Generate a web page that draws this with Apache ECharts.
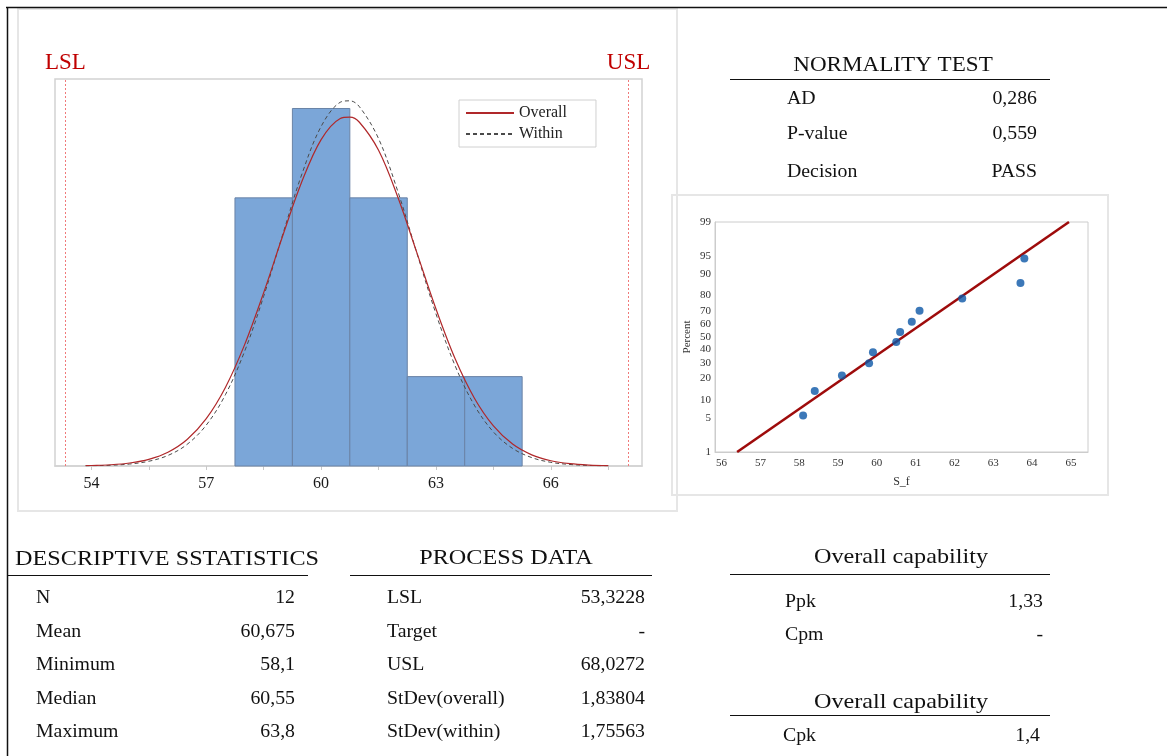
<!DOCTYPE html>
<html><head><meta charset="utf-8">
<script src="https://cdn.jsdelivr.net/npm/echarts@6/dist/echarts.min.js"></script>
<style>html,body{margin:0;padding:0;background:#fff}#c{width:1167px;height:756px}</style>
</head><body><div id="c"></div>
<script>
// ---------- data ----------
const binEdges = [57.75, 59.25, 60.75, 62.25, 63.75, 65.25];
const binCounts = [3, 4, 3, 1, 1];
const curveX = [53.85, 54, 54.5, 55, 55.5, 56, 56.5, 57, 57.5, 58, 58.5, 59, 59.5, 60, 60.5, 60.75, 61, 61.5, 62, 62.5, 63, 63.5, 64, 64.5, 65, 65.5, 66, 66.5, 67, 67.5];
const overallY = [0.004, 0.0054, 0.0138, 0.0333, 0.0743, 0.1538, 0.2962, 0.5294, 0.8788, 1.355, 1.940, 2.579, 3.185, 3.652, 3.889, 3.904, 3.846, 3.533, 3.013, 2.387, 1.756, 1.199, 0.761, 0.448, 0.245, 0.125, 0.059, 0.026, 0.0105, 0.004];
const withinY = [0.0021, 0.0030, 0.0084, 0.0220, 0.0531, 0.1180, 0.2419, 0.4573, 0.7972, 1.281, 1.899, 2.595, 3.269, 3.799, 4.070, 4.086, 4.020, 3.663, 3.077, 2.383, 1.702, 1.121, 0.681, 0.381, 0.197, 0.094, 0.041, 0.017, 0.0062, 0.0021];
const LSL = 53.3228, USL = 68.0272;
const histTicks = [54, 55.5, 57, 58.5, 60, 61.5, 63, 64.5, 66, 67.5];
const histLabels = [54, 57, 60, 63, 66];

const probX = [58.1, 58.4, 59.1, 59.8, 59.9, 60.5, 60.6, 60.9, 61.1, 62.2, 63.7, 63.8];
const probPct = [5.6, 13.7, 21.8, 29.8, 37.9, 46.0, 54.0, 62.1, 70.2, 78.2, 86.3, 94.4];
const fitX = [56.4, 64.95];
const fitPct = [1, 99];
const pctTicks = [1, 5, 10, 20, 30, 40, 50, 60, 70, 80, 90, 95, 99];
const probXTicks = [56, 57, 58, 59, 60, 61, 62, 63, 64, 65];

const normLabels = ['AD', 'P-value', 'Decision'];
const normValues = ['0,286', '0,559', 'PASS'];
const descLabels = ['N', 'Mean', 'Minimum', 'Median', 'Maximum'];
const descValues = ['12', '60,675', '58,1', '60,55', '63,8'];
const procLabels = ['LSL', 'Target', 'USL', 'StDev(overall)', 'StDev(within)'];
const procValues = ['53,3228', '-', '68,0272', '1,83804', '1,75563'];
const capLabels = ['Ppk', 'Cpm'];
const capValues = ['1,33', '-'];
const cap2Labels = ['Cpk'];
const cap2Values = ['1,4'];

// ---------- helpers ----------
function probit(p) {
  const a=[-3.969683028665376e+01,2.209460984245205e+02,-2.759285104469687e+02,1.383577518672690e+02,-3.066479806614716e+01,2.506628277459239e+00];
  const b=[-5.447609879822406e+01,1.615858368580409e+02,-1.556989798598866e+02,6.680131188771972e+01,-1.328068155288572e+01];
  const c=[-7.784894002430293e-03,-3.223964580411365e-01,-2.400758277161838e+00,-2.549732539343734e+00,4.374664141464968e+00,2.938163982698783e+00];
  const d=[7.784695709041462e-03,3.224671290700398e-01,2.445134137142996e+00,3.754408661907416e+00];
  const pl=0.02425, ph=1-pl; let q,r;
  if(p<pl){q=Math.sqrt(-2*Math.log(p));return (((((c[0]*q+c[1])*q+c[2])*q+c[3])*q+c[4])*q+c[5])/((((d[0]*q+d[1])*q+d[2])*q+d[3])*q+1);}
  if(p<=ph){q=p-0.5;r=q*q;return (((((a[0]*r+a[1])*r+a[2])*r+a[3])*r+a[4])*r+a[5])*q/(((((b[0]*r+b[1])*r+b[2])*r+b[3])*r+b[4])*r+1);}
  q=Math.sqrt(-2*Math.log(1-p));return -(((((c[0]*q+c[1])*q+c[2])*q+c[3])*q+c[4])*q+c[5])/((((d[0]*q+d[1])*q+d[2])*q+d[3])*q+1);
}
const zTicks = pctTicks.map(p => probit(p / 100));
const FONT = '"Liberation Serif", "Times New Roman", serif';
const SX = 1.1; // horizontal stretch of the reference text
const DY = 1.5; // visual centring offset for text

// ---------- graphic (tables, panels) ----------
const G = [];
function txt(x, y, s, size, align, color) {
  G.push({type: 'text', silent: true, z: 10, x: x, y: y + DY, scaleX: SX,
    style: {x: 0, y: 0, text: s, fill: color || '#111',
    font: size + 'px ' + FONT, textAlign: align || 'left', textVerticalAlign: 'middle'}});
}
function hline(x1, x2, y, w, col) {
  G.push({type: 'line', silent: true, z: 10, shape: {x1: x1, y1: y, x2: x2, y2: y}, style: {stroke: col || '#111', lineWidth: w || 1}});
}
// outer border
G.push({type: 'line', silent: true, z: 11, shape: {x1: 6, y1: 7.5, x2: 1167, y2: 7.5}, style: {stroke: '#111', lineWidth: 1.5}});
G.push({type: 'line', silent: true, z: 11, shape: {x1: 7.5, y1: 7, x2: 7.5, y2: 756}, style: {stroke: '#111', lineWidth: 1.5}});
// panels
G.push({type: 'rect', silent: true, z: 1, shape: {x: 18, y: 9, width: 659, height: 502}, style: {fill: 'none', stroke: '#e6e6e6', lineWidth: 2}});
G.push({type: 'rect', silent: true, z: 1, shape: {x: 672, y: 195, width: 436, height: 300}, style: {fill: 'none', stroke: '#e6e6e6', lineWidth: 2}});

// normality test
txt(893, 64, 'NORMALITY TEST', 21, 'center');
hline(730, 1050, 79.5);
const normY = [98, 133, 171];
normLabels.forEach((l, i) => { txt(787, normY[i], l, 18); txt(1037, normY[i], normValues[i], 18, 'right'); });

// descriptive
const rowY = [597, 631, 664, 698, 731];
txt(167, 558, 'DESCRIPTIVE SSTATISTICS', 22, 'center');
hline(7, 308, 575.5);
descLabels.forEach((l, i) => { txt(36, rowY[i], l, 18); txt(295, rowY[i], descValues[i], 18, 'right'); });

// process data
txt(506, 557, 'PROCESS DATA', 22, 'center');
hline(350, 652, 575.5);
procLabels.forEach((l, i) => { txt(387, rowY[i], l, 18); txt(645, rowY[i], procValues[i], 18, 'right'); });

// capability
txt(901, 556, 'Overall capability', 22, 'center');
hline(730, 1050, 574.5);
const capY = [601, 634];
capLabels.forEach((l, i) => { txt(785, capY[i], l, 18); txt(1043, capY[i], capValues[i], 18, 'right'); });
txt(901, 701, 'Overall capability', 22, 'center');
hline(730, 1050, 715.5);
cap2Labels.forEach((l, i) => { txt(783, 735, l, 18); txt(1040, 735, cap2Values[i], 18, 'right'); });

// ---------- chart ----------
const chart = echarts.init(document.getElementById('c'), null, {renderer: 'canvas'});
const option = {
  animation: false,
  backgroundColor: '#fff',
  textStyle: {fontFamily: FONT},
  graphic: G,
  legend: {
    data: ['Overall', 'Within'], orient: 'vertical', left: 459, top: 100,
    itemWidth: 48, itemHeight: 10, itemGap: 5,
    padding: [5, 29, 5, 6], borderColor: '#d0d0d0', borderWidth: 1, backgroundColor: '#fff',
    itemStyle: {opacity: 0},
    textStyle: {fontSize: 16, fontFamily: FONT, color: '#222'}, selectedMode: false
  },
  grid: [
    {left: 55, top: 79, width: 587, height: 387, show: true, borderColor: '#d2d2d2', borderWidth: 1.5, backgroundColor: 'transparent', containLabel: false},
    {left: 715, top: 222, width: 373, height: 230, show: true, borderColor: '#cccccc', borderWidth: 1, backgroundColor: 'transparent', containLabel: false}
  ],
  xAxis: [
    {gridIndex: 0, type: 'value', min: 53.05, max: 68.38,
      axisLine: {show: true, onZero: false, lineStyle: {color: '#d2d2d2', width: 1.5}},
      axisTick: {show: true, customValues: histTicks, length: 4, lineStyle: {color: '#c8c8c8'}},
      axisLabel: {customValues: histLabels, fontSize: 16, color: '#1a1a1a', margin: 10, fontFamily: FONT},
      splitLine: {show: false}},
    {gridIndex: 1, type: 'value', min: 55.83, max: 65.44,
      axisLine: {show: true, onZero: false, lineStyle: {color: '#cccccc'}},
      axisTick: {show: false},
      axisLabel: {customValues: probXTicks, fontSize: 11, color: '#333', margin: 6, fontFamily: FONT},
      splitLine: {show: false},
      name: 'S_f', nameLocation: 'middle', nameGap: 24, nameTextStyle: {fontSize: 12, color: '#333', fontFamily: FONT}}
  ],
  yAxis: [
    {gridIndex: 0, type: 'value', min: 0, max: 4.33, show: false, splitLine: {show: false}},
    {gridIndex: 1, type: 'value', min: zTicks[0], max: zTicks[zTicks.length - 1],
      axisLine: {show: true, onZero: false, lineStyle: {color: '#cccccc'}},
      axisTick: {show: false},
      axisLabel: {customValues: zTicks, fontSize: 11, color: '#333', margin: 4, fontFamily: FONT,
        formatter: v => { let bi = 0, bd = 1e9; zTicks.forEach((z, i) => { const dd = Math.abs(z - v); if (dd < bd) { bd = dd; bi = i; } }); return String(pctTicks[bi]); }},
      splitLine: {show: false},
      name: 'Percent', nameLocation: 'middle', nameGap: 22, nameTextStyle: {fontSize: 11, color: '#333', fontFamily: FONT}}
  ],
  series: [
    {type: 'custom', name: 'bins', xAxisIndex: 0, yAxisIndex: 0, z: 2,
      data: binCounts.map((c, i) => [binEdges[i], binEdges[i + 1], c]),
      encode: {x: [0, 1], y: 2},
      renderItem: (params, api) => {
        const p0 = api.coord([api.value(0), api.value(2)]);
        const p1 = api.coord([api.value(1), 0]);
        return {type: 'rect', shape: {x: p0[0], y: p0[1], width: p1[0] - p0[0], height: p1[1] - p0[1]},
          style: {fill: '#7ba6d8', stroke: '#6a83a6', lineWidth: 1}};
      }},
    {type: 'line', name: 'Overall', xAxisIndex: 0, yAxisIndex: 0, z: 4, smooth: 0.35, symbol: 'none',
      data: curveX.map((x, i) => [x, overallY[i]]),
      lineStyle: {color: '#b0282a', width: 1.2}, itemStyle: {color: '#b0282a'},
      markLine: {silent: true, symbol: 'none', animation: false,
        lineStyle: {color: '#f07a7a', type: [2, 2], width: 1},
        label: {show: true, position: 'end', distance: 5, color: '#c00000', fontSize: 23, fontFamily: FONT},
        data: [{xAxis: LSL, label: {formatter: 'LSL'}}, {xAxis: USL, label: {formatter: 'USL'}}]}},
    {type: 'line', name: 'Within', xAxisIndex: 0, yAxisIndex: 0, z: 3, smooth: 0.35, symbol: 'none',
      data: curveX.map((x, i) => [x, withinY[i]]),
      lineStyle: {color: '#4a4a4a', width: 1, type: [4, 3]}, itemStyle: {color: '#4a4a4a'}},
    {type: 'line', name: 'fit', xAxisIndex: 1, yAxisIndex: 1, symbol: 'none', z: 3,
      data: fitX.map((x, i) => [x, probit(fitPct[i] / 100)]),
      lineStyle: {color: '#9e0b0b', width: 2.6}},
    {type: 'scatter', name: 'points', xAxisIndex: 1, yAxisIndex: 1, z: 4, symbolSize: 8,
      data: probX.map((x, i) => [x, probit(probPct[i] / 100)]),
      itemStyle: {color: '#0b56a6'}}
  ]
};
chart.setOption(option);
</script>
</body></html>
